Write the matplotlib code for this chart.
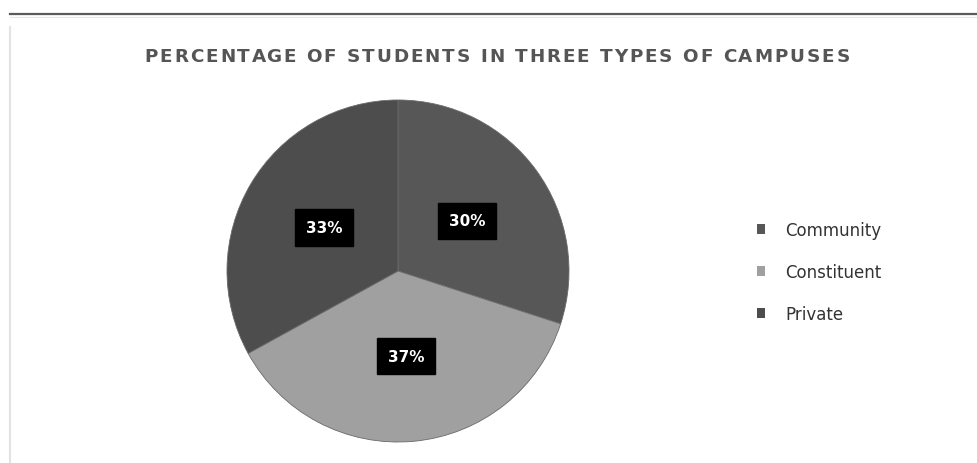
import matplotlib
matplotlib.use("Agg")
import matplotlib.pyplot as plt
from matplotlib.lines import Line2D
from matplotlib.patches import Patch

# data
campuses = ["Community", "Constituent", "Private"]
shares = [30, 37, 33]
colors = ["#575757", "#a0a0a0", "#4d4d4d"]
title = "PERCENTAGE OF STUDENTS IN THREE TYPES OF CAMPUSES"

W, H = 977, 464
fig = plt.figure(figsize=(W / 100, H / 100), dpi=100)
fig.patch.set_facecolor("white")

# frame lines of the original screenshot
fig.add_artist(Line2D([10 / W, 1], [1 - 14.5 / H] * 2, color="#5a5a5a", lw=1.6))
fig.add_artist(Line2D([10 / W, 1], [1 - 18 / H] * 2, color="#e6e6e6", lw=0.8))
fig.add_artist(Line2D([10 / W] * 2, [0, 1 - 28 / H], color="#e3e3e3", lw=1.5))

# letter-spaced title: place each character so the line spans ~705 px
renderer = fig.canvas.get_renderer()
tkw = dict(fontsize=13.2, fontweight="bold", color="#555555")

def text_width(s):
    t = fig.text(0, 0, s, **tkw)
    w = t.get_window_extent(renderer).width
    t.remove()
    return w

bar_w = text_width("|")
offsets = [text_width(title[:i] + "|") - bar_w if i else 0.0 for i in range(len(title))]
plain_w = text_width(title)
span = 705
gap = (span - plain_w) / (len(title) - 1)
x0 = 497 - span / 2
for i, ch in enumerate(title):
    if ch != " ":
        fig.text((x0 + offsets[i] + i * gap) / W, 1 - 57 / H, ch,
                 ha="left", va="center", **tkw)

# pie axes centred at (398, 272) px, radius 171 px
cx, cy, r = 398, 272, 171
ax = fig.add_axes([(cx - r) / W, (H - cy - r) / H, 2 * r / W, 2 * r / H])
wedges, texts, autotexts = ax.pie(
    shares, colors=colors, startangle=90, counterclock=False,
    autopct="%d%%", pctdistance=0.5, radius=1,
    wedgeprops=dict(edgecolor="#6a6a6a", linewidth=0.6))
for t in autotexts:
    t.set_color("white")
    t.set_fontsize(11)
    t.set_fontweight("bold")
    t.set_bbox(dict(facecolor="black", edgecolor="black", boxstyle="square,pad=0.7"))
ax.set_xlim(-1, 1)
ax.set_ylim(-1, 1)
ax.set_aspect("equal")

handles = [Patch(facecolor=c, edgecolor="none") for c in colors]
fig.legend(handles, campuses, loc="center left", bbox_to_anchor=(742 / W, 1 - 273 / H),
           frameon=False, fontsize=12, handlelength=0.48, handleheight=0.48,
           handletextpad=1.2, labelspacing=1.44, labelcolor="#333333")

fig.savefig("out.png", dpi=100, facecolor="white")
